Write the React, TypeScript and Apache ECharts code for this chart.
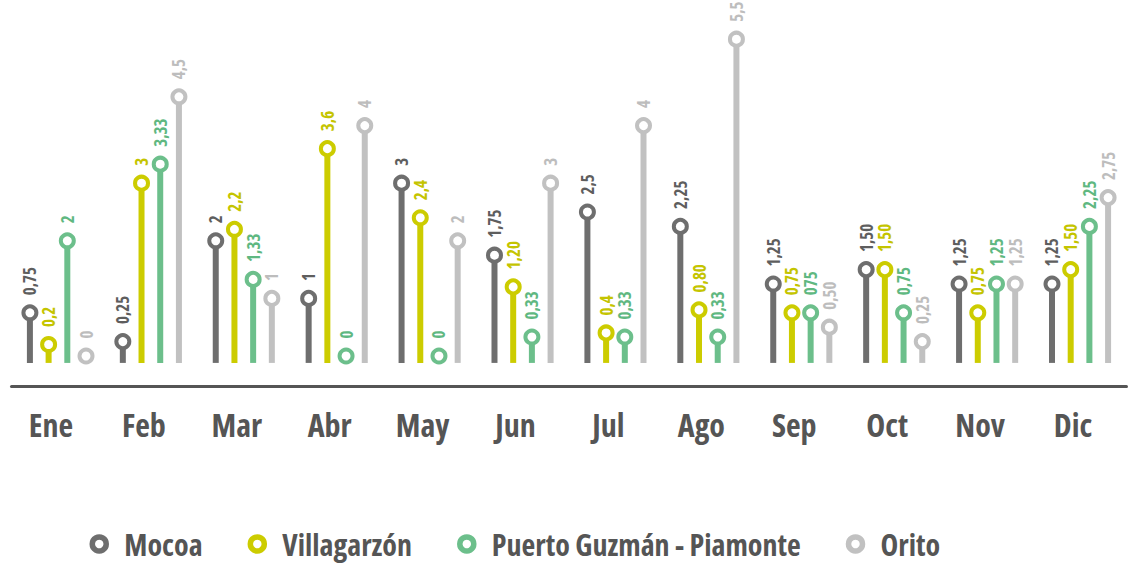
import React, { useEffect, useRef } from "react";
import * as echarts from "echarts";

const months = ["Ene", "Feb", "Mar", "Abr", "May", "Jun", "Jul", "Ago", "Sep", "Oct", "Nov", "Dic"];

const seriesNames = ["Mocoa", "Villagarzón", "Puerto Guzmán - Piamonte", "Orito"];
const seriesColors = ["#6e6e6e", "#cccc00", "#6cbf8b", "#c1c1c1"];
const labelColors = ["#5e5e5e", "#c4c400", "#5fb881", "#bdbdbd"];

const mocoa = [0.75, 0.25, 2, 1, 3, 1.75, 2.5, 2.25, 1.25, 1.5, 1.25, 1.25];
const villagarzon = [0.2, 3, 2.2, 3.6, 2.4, 1.2, 0.4, 0.8, 0.75, 1.5, 0.75, 1.5];
const puertoGuzman = [2, 3.33, 1.33, 0, 0, 0.33, 0.33, 0.33, 0.75, 0.75, 1.25, 2.25];
const orito = [0, 4.5, 1, 4, 2, 3, 4, 5.5, 0.5, 0.25, 1.25, 2.75];

const mocoaLabels = ["0,75", "0,25", "2", "1", "3", "1,75", "2,5", "2,25", "1,25", "1,50", "1,25", "1,25"];
const villagarzonLabels = ["0,2", "3", "2,2", "3,6", "2,4", "1,20", "0,4", "0,80", "0,75", "1,50", "0,75", "1,50"];
const puertoGuzmanLabels = ["2", "3,33", "1,33", "0", "0", "0,33", "0,33", "0,33", "075", "0,75", "1,25", "2,25"];
const oritoLabels = ["0", "4,5", "1", "4", "2", "3", "4", "5,5", "0,50", "0,25", "1,25", "2,75"];

const allValues = [mocoa, villagarzon, puertoGuzman, orito];
const allLabels = [mocoaLabels, villagarzonLabels, puertoGuzmanLabels, oritoLabels];

const STEM_BASE = -0.12;
const FAMILY = "'Open Sans', sans-serif";

export default function App() {
  const ref = useRef<HTMLDivElement>(null);

  useEffect(() => {
    if (!ref.current) return;
    const chart = echarts.init(ref.current, null, { renderer: "svg" });

    const series = seriesNames.map((name, si) => {
      const color = seriesColors[si];
      const labels = allLabels[si];
      return {
        name,
        type: "custom",
        data: allValues[si].map((v, i) => [i, v]),
        itemStyle: { color },
        renderItem: (params: any, api: any) => {
          const idx = api.value(0);
          const v = api.value(1);
          const top = api.coord([idx, v]);
          const bot = api.coord([idx, STEM_BASE]);
          const x = top[0] + (si - 1.5) * 18.7;
          const r = 6.5;
          return {
            type: "group",
            children: [
              {
                type: "rect",
                shape: { x: x - 3, y: top[1], width: 6, height: bot[1] - top[1] },
                style: { fill: color },
              },
              {
                type: "circle",
                shape: { cx: x, cy: top[1], r },
                style: { fill: "#fff", stroke: color, lineWidth: 4 },
              },
              {
                type: "text",
                x: x,
                y: top[1] - r - 11,
                rotation: Math.PI / 2,
                style: {
                  text: labels[params.dataIndex],
                  fill: labelColors[si],
                  font: `bold condensed 17px ${FAMILY}`,
                  align: "left",
                  verticalAlign: "middle",
                },
              },
            ],
          };
        },
      };
    });

    chart.setOption({
      animation: false,
      grid: { left: 11.5, right: 1.5, top: 20, bottom: 180, containLabel: false },
      xAxis: {
        type: "category",
        data: months,
        axisLine: { show: true, onZero: false, lineStyle: { color: "#555555", width: 3 } },
        axisTick: { show: false },
        axisLabel: {
          margin: 22,
          padding: [0, 14, 0, 0],
          color: "#555555",
          fontFamily: FAMILY,
          fontStyle: "condensed",
          fontWeight: "bold",
          fontSize: 32,
        },
      },
      yAxis: {
        type: "value",
        min: -0.5208,
        max: 5.8333,
        show: false,
        splitLine: { show: false },
      },
      legend: {
        top: 524,
        left: 84.5,
        itemWidth: 40,
        itemHeight: 14,
        itemGap: 45,
        textStyle: {
          color: "#555555",
          fontFamily: FAMILY,
          fontStyle: "condensed",
          fontWeight: "bold",
          fontSize: 30,
        },
        data: seriesNames.map((name, i) => ({
          name,
          icon: "circle",
          itemStyle: { color: "#fff", borderColor: seriesColors[i], borderWidth: 5.5 },
        })),
      },
      series,
    });

    return () => chart.dispose();
  }, []);

  return (
    <div
      ref={ref}
      style={{
        position: "fixed",
        left: 0,
        top: 0,
        width: 1128,
        height: 566,
        background: "#fff",
        fontStretch: "condensed",
      }}
    />
  );
}
